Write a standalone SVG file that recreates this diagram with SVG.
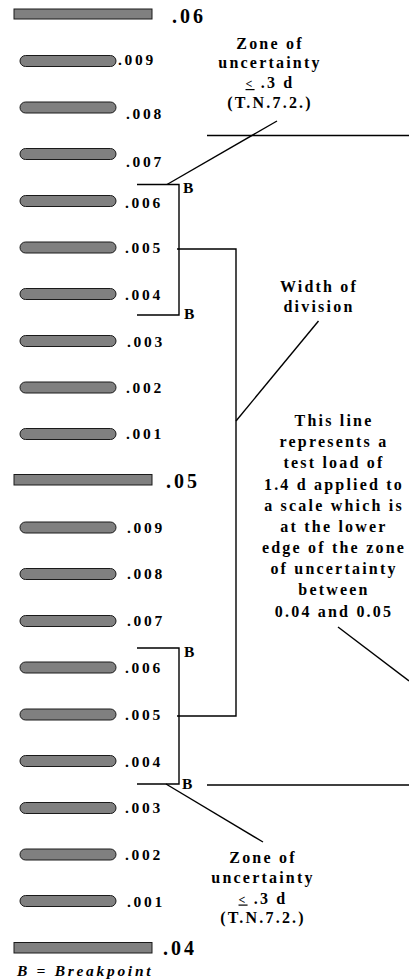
<svg xmlns="http://www.w3.org/2000/svg" width="409" height="980" viewBox="0 0 409 980">
<style>
.bar{fill:#808080;stroke:#1a1a1a;stroke-width:1}
.pill{fill:#808080;stroke:#1a1a1a;stroke-width:1}
text{font-family:"Liberation Serif","Times New Roman",serif;font-weight:bold;fill:#000}
.lbl{font-size:15.5px;letter-spacing:2.7px}
.big{font-size:20px;letter-spacing:3px}
.note{font-size:16px;letter-spacing:2.2px;text-anchor:middle}
.b{font-size:15.5px}
.leg{font-size:15.5px;font-style:italic;letter-spacing:2.7px}
.conn{fill:none;stroke:#000;stroke-width:1.4}
</style>
<rect width="409" height="980" fill="#fff"/>
<g id="scale">
<g id="major-06"><rect class="bar" x="14" y="9" width="138" height="10"/><text class="big" x="172" y="23">.06</text></g>
<g id="m-009a"><rect class="pill" x="20" y="55.5" width="96" height="11" rx="5.5"/><text class="lbl" x="118" y="65">.009</text></g>
<g id="m-008a"><rect class="pill" x="20" y="102" width="96" height="11" rx="5.5"/><text class="lbl" x="126" y="119">.008</text></g>
<g id="m-007a"><rect class="pill" x="20" y="148.5" width="96" height="11" rx="5.5"/><text class="lbl" x="126" y="167">.007</text></g>
<g id="m-006a"><rect class="pill" x="20" y="195.5" width="96" height="11" rx="5.5"/><text class="lbl" x="125" y="207.5">.006</text></g>
<g id="m-005a"><rect class="pill" x="20" y="242" width="96" height="11" rx="5.5"/><text class="lbl" x="125" y="253">.005</text></g>
<g id="m-004a"><rect class="pill" x="20" y="288.5" width="96" height="11" rx="5.5"/><text class="lbl" x="125" y="300">.004</text></g>
<g id="m-003a"><rect class="pill" x="20" y="335.5" width="96" height="11" rx="5.5"/><text class="lbl" x="127" y="346.5">.003</text></g>
<g id="m-002a"><rect class="pill" x="20" y="382" width="96" height="11" rx="5.5"/><text class="lbl" x="126" y="393">.002</text></g>
<g id="m-001a"><rect class="pill" x="20" y="428.5" width="96" height="11" rx="5.5"/><text class="lbl" x="126" y="439">.001</text></g>
<g id="major-05"><rect class="bar" x="14" y="474.5" width="138" height="10.5"/><text class="big" x="166" y="488">.05</text></g>
<g id="m-009b"><rect class="pill" x="20" y="522" width="96" height="11" rx="5.5"/><text class="lbl" x="127" y="533">.009</text></g>
<g id="m-008b"><rect class="pill" x="20" y="568.5" width="96" height="11" rx="5.5"/><text class="lbl" x="127" y="579">.008</text></g>
<g id="m-007b"><rect class="pill" x="20" y="615.5" width="96" height="11" rx="5.5"/><text class="lbl" x="127" y="626">.007</text></g>
<g id="m-006b"><rect class="pill" x="20" y="662" width="96" height="11" rx="5.5"/><text class="lbl" x="125" y="673">.006</text></g>
<g id="m-005b"><rect class="pill" x="20" y="709" width="96" height="11" rx="5.5"/><text class="lbl" x="125" y="720">.005</text></g>
<g id="m-004b"><rect class="pill" x="20" y="755.5" width="96" height="11" rx="5.5"/><text class="lbl" x="125" y="767">.004</text></g>
<g id="m-003b"><rect class="pill" x="20" y="802.5" width="96" height="11" rx="5.5"/><text class="lbl" x="125" y="813">.003</text></g>
<g id="m-002b"><rect class="pill" x="20" y="849" width="96" height="11" rx="5.5"/><text class="lbl" x="125" y="860">.002</text></g>
<g id="m-001b"><rect class="pill" x="20" y="895.5" width="96" height="11" rx="5.5"/><text class="lbl" x="127" y="907">.001</text></g>
<g id="major-04"><rect class="bar" x="14" y="942.5" width="138" height="10.5"/><text class="big" x="163" y="955">.04</text></g>
</g>
<g id="connectors">
<line class="conn" x1="207" y1="135.5" x2="409" y2="135.5"/>
<line class="conn" x1="277" y1="121" x2="167" y2="184.5"/>
<polyline class="conn" points="137,184.5 179,184.5 179,315 137,315"/>
<polyline class="conn" points="177,249 236,249 236,716 177,716"/>
<line class="conn" x1="318.5" y1="321" x2="236" y2="421"/>
<polyline class="conn" points="137,648 179,648 179,784 137,784"/>
<line class="conn" x1="207" y1="785" x2="409" y2="785"/>
<line class="conn" x1="166" y1="784" x2="263" y2="842"/>
<line class="conn" x1="338" y1="627" x2="409" y2="681"/>
</g>
<g id="breakpoints">
<text class="b" x="183" y="193">B</text>
<text class="b" x="184" y="319">B</text>
<text class="b" x="184" y="657">B</text>
<text class="b" x="182" y="789">B</text>
</g>
<g id="zone-top">
<text class="note" x="270" y="48.5">Zone of</text>
<text class="note" x="270" y="68">uncertainty</text>
<text class="note" x="270" y="88"><tspan font-size="12" text-decoration="underline">&lt;</tspan> .3 d</text>
<text class="note" x="270" y="107.5">(T.N.7.2.)</text>
</g>
<g id="width-of-division">
<text class="note" x="319" y="291.5">Width of</text>
<text class="note" x="319" y="311.5">division</text>
</g>
<g id="test-load-note">
<text class="note" x="334" y="426">This line</text>
<text class="note" x="334" y="447.2">represents a</text>
<text class="note" x="334" y="468.3">test load of</text>
<text class="note" x="334" y="489.5">1.4 d applied to</text>
<text class="note" x="334" y="510.7">a scale which is</text>
<text class="note" x="334" y="531.8">at the lower</text>
<text class="note" x="334" y="553">edge of the zone</text>
<text class="note" x="334" y="574.2">of uncertainty</text>
<text class="note" x="334" y="595.3">between</text>
<text class="note" x="334" y="616.5">0.04 and 0.05</text>
</g>
<g id="zone-bottom">
<text class="note" x="263" y="863">Zone of</text>
<text class="note" x="263" y="883">uncertainty</text>
<text class="note" x="263" y="903.5"><tspan font-size="12" text-decoration="underline">&lt;</tspan> .3 d</text>
<text class="note" x="263" y="923">(T.N.7.2.)</text>
</g>
<g id="legend">
<text class="leg" x="17" y="976">B = Breakpoint</text>
</g>
</svg>
